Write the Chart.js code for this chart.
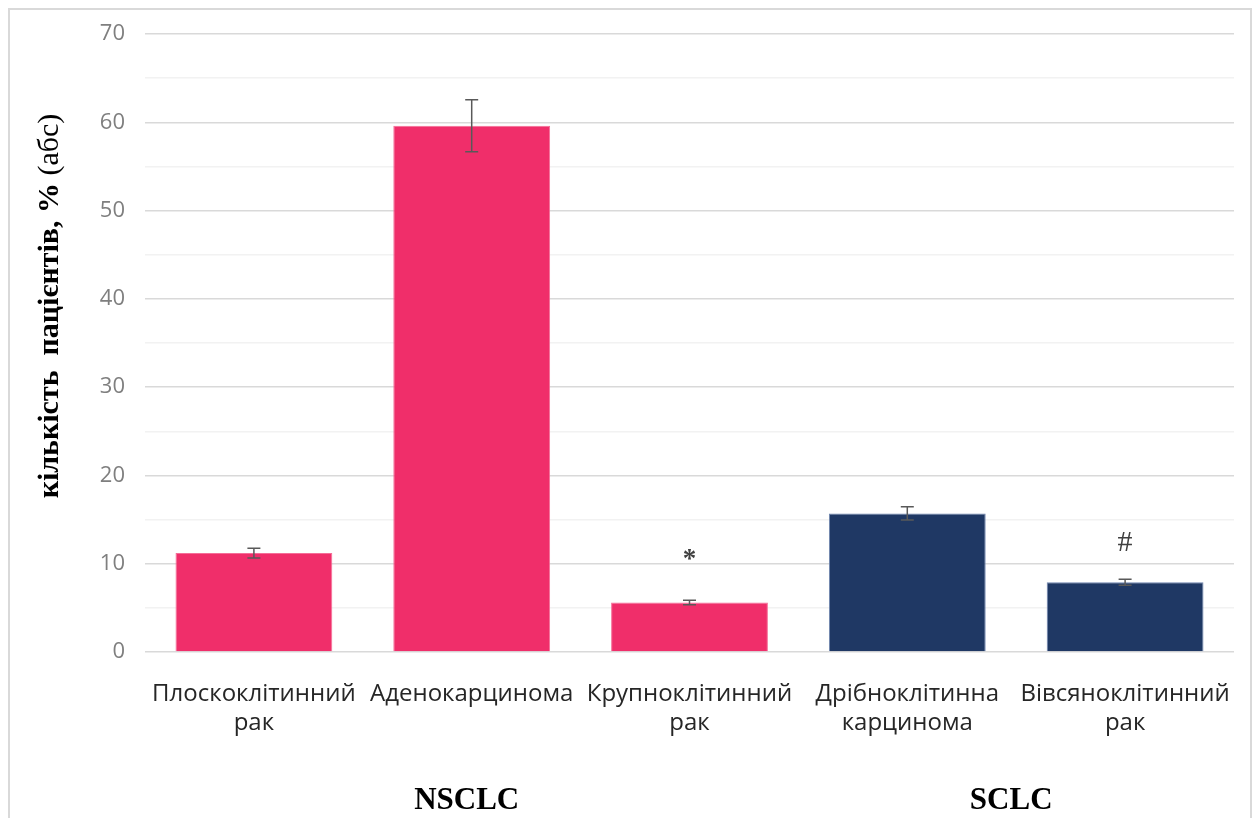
<!DOCTYPE html>
<html lang="uk">
<head>
<meta charset="utf-8">
<script src="https://cdn.jsdelivr.net/npm/chart.js@4.4.1/dist/chart.umd.min.js"></script>
<style>
  html, body { margin: 0; padding: 0; background: #fff; overflow: hidden; }
  #wrap { position: relative; width: 1257px; height: 818px; }
  #frame { position: absolute; left: 8px; top: 8px; width: 1244px; height: 830px;
           border: 2px solid #d9d9d9; box-sizing: border-box; pointer-events: none; }
  canvas { position: absolute; left: 0; top: 0; }
</style>
</head>
<body>
<div id="wrap">
  <canvas id="chart" width="1257" height="818"></canvas>
  <div id="frame"></div>
</div>
<script>
// Histological types of lung cancer, share of patients
const categories = [
  ['Плоскоклітинний', 'рак'],
  ['Аденокарцинома'],
  ['Крупноклітинний', 'рак'],
  ['Дрібноклітинна', 'карцинома'],
  ['Вівсяноклітинний', 'рак']
];
const values = [11.2, 59.6, 5.6, 15.7, 7.9];
const errors = [0.55, 2.95, 0.25, 0.75, 0.35];
const groups = ['NSCLC', 'NSCLC', 'NSCLC', 'SCLC', 'SCLC'];
const marks = ['', '', '*', '', '#'];
const yMax = 70;
const yStep = 5;
const yLabelStep = 10;

const groupColors = { NSCLC: '#f02e6a', SCLC: '#1f3864' };
const groupBorders = { NSCLC: '#f56d97', SCLC: '#6f85b0' };

// Error bars, significance marks and group captions
const overlay = {
  id: 'overlay',
  afterDatasetsDraw(chart) {
    const ctx = chart.ctx;
    const meta = chart.getDatasetMeta(0);
    const y = chart.scales.y;
    ctx.save();
    ctx.strokeStyle = '#595959';
    ctx.lineWidth = 1.5;
    meta.data.forEach((bar, i) => {
      const x = bar.x;
      const yTop = y.getPixelForValue(values[i] + errors[i]);
      const yBot = y.getPixelForValue(values[i] - errors[i]);
      const cap = 6.5;
      ctx.beginPath();
      ctx.moveTo(x, yTop); ctx.lineTo(x, yBot);
      ctx.moveTo(x - cap, yTop); ctx.lineTo(x + cap, yTop);
      ctx.moveTo(x - cap, yBot); ctx.lineTo(x + cap, yBot);
      ctx.stroke();
      if (marks[i]) {
        ctx.fillStyle = '#404040';
        ctx.textAlign = 'center';
        ctx.textBaseline = 'middle';
        ctx.font = marks[i] === '*' ? 'bold 27px "Liberation Serif"' : '30px "Liberation Serif"';
        ctx.fillText(marks[i], x, yTop - (marks[i] === '*' ? 40 : 36));
      }
    });
    // group captions under the category labels
    const names = [...new Set(groups)];
    ctx.fillStyle = '#000';
    ctx.font = 'bold 31px "Liberation Serif"';
    ctx.textAlign = 'center';
    ctx.textBaseline = 'middle';
    names.forEach(g => {
      const xs = meta.data.filter((b, i) => groups[i] === g).map(b => b.x);
      const cx = (Math.min(...xs) + Math.max(...xs)) / 2;
      ctx.fillText(g, cx - 5, 801);
    });
    ctx.restore();
  },
  afterDraw(chart) {
    // y-axis title: bold part followed by regular part
    const ctx = chart.ctx;
    const boldPart = 'кількість  пацієнтів, %';
    const normalPart = ' (абс)';
    ctx.save();
    ctx.translate(50, 306);
    ctx.rotate(-Math.PI / 2);
    ctx.fillStyle = '#000';
    ctx.textBaseline = 'middle';
    ctx.textAlign = 'left';
    const fb = 'bold 30px "Liberation Serif"';
    const fn = '30px "Liberation Serif"';
    ctx.font = fb; const wb = ctx.measureText(boldPart).width;
    ctx.font = fn; const wn = ctx.measureText(normalPart).width;
    const x0 = -(wb + wn) / 2;
    ctx.font = fb; ctx.fillText(boldPart, x0, 0);
    ctx.font = fn; ctx.fillText(normalPart, x0 + wb, 0);
    ctx.restore();
  }
};

new Chart(document.getElementById('chart'), {
  type: 'bar',
  data: {
    labels: categories,
    datasets: [{
      data: values,
      backgroundColor: groups.map(g => groupColors[g]),
      borderColor: groups.map(g => groupBorders[g]),
      borderWidth: 1,
      barPercentage: 0.72,
      categoryPercentage: 1.0
    }]
  },
  options: {
    responsive: false,
    animation: false,
    layout: { padding: { left: 0, right: 23, top: 34, bottom: 0 } },
    plugins: { legend: { display: false }, tooltip: { enabled: false } },
    scales: {
      x: {
        grid: { display: false },
        border: { display: false },
        ticks: {
          color: '#262626',
          font: { family: 'Open Sans', size: 24 },
          lineHeight: 1.33,
          padding: 20,
          maxRotation: 0,
          autoSkip: false
        },
        afterFit(scale) { scale.height = 166; }
      },
      y: {
        min: 0,
        max: yMax,
        border: { display: false },
        grid: {
          drawTicks: false,
          lineWidth: 1.5,
          color: ctx => (ctx.tick && ctx.tick.value % yLabelStep === 0) ? '#d9d9d9' : '#f2f2f2'
        },
        ticks: {
          stepSize: yStep,
          color: '#7f7f7f',
          font: { family: 'Open Sans', size: 22 },
          padding: 20,
          callback: v => (v % yLabelStep === 0 ? v : '')
        },
        afterFit(scale) { scale.width = 145; }
      }
    }
  },
  plugins: [overlay]
});
</script>
</body>
</html>
